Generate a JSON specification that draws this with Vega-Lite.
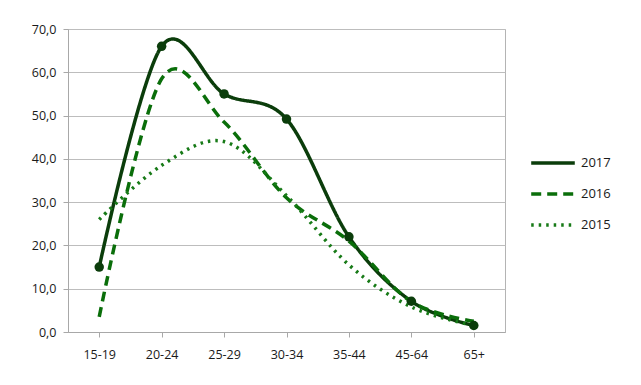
{
  "$schema": "https://vega.github.io/schema/vega-lite/v6.json",
  "width": 437,
  "height": 303,
  "autosize": {"type": "none"},
  "padding": {"left": 68, "top": 29, "right": 136, "bottom": 53},
  "background": "white",
  "config": {
    "view": {"stroke": "#b4b4b4", "strokeWidth": 1},
    "font": "Open Sans",
    "axis": {"labelFont": "Open Sans", "labelFontSize": 12.5, "labelColor": "#1a1a1a", "domainColor": "#a8a8a8", "tickColor": "#a8a8a8", "gridColor": "#bdbdbd", "gridWidth": 1, "tickSize": 5, "title": null}
  },
  "data": {"values": [
    {"age": "15-19", "year": "2017", "v": 15.0},
    {"age": "20-24", "year": "2017", "v": 66.0},
    {"age": "25-29", "year": "2017", "v": 55.0},
    {"age": "30-34", "year": "2017", "v": 49.2},
    {"age": "35-44", "year": "2017", "v": 22.0},
    {"age": "45-64", "year": "2017", "v": 7.1},
    {"age": "65+", "year": "2017", "v": 1.5},
    {"age": "15-19", "year": "2016", "v": 3.5},
    {"age": "20-24", "year": "2016", "v": 58.5},
    {"age": "25-29", "year": "2016", "v": 48.5},
    {"age": "30-34", "year": "2016", "v": 31.0},
    {"age": "35-44", "year": "2016", "v": 21.0},
    {"age": "45-64", "year": "2016", "v": 7.0},
    {"age": "65+", "year": "2016", "v": 2.5},
    {"age": "15-19", "year": "2015", "v": 26.0},
    {"age": "20-24", "year": "2015", "v": 38.5},
    {"age": "25-29", "year": "2015", "v": 44.0},
    {"age": "30-34", "year": "2015", "v": 31.5},
    {"age": "35-44", "year": "2015", "v": 15.5},
    {"age": "45-64", "year": "2015", "v": 5.8},
    {"age": "65+", "year": "2015", "v": 1.5}
  ]},
  "layer": [
    {
      "mark": {"type": "line", "interpolate": "cardinal"},
      "encoding": {
        "x": {"field": "age", "type": "nominal", "sort": null,
              "scale": {"paddingInner": 0, "paddingOuter": 0},
              "axis": {"labelAngle": 0, "bandPosition": 0, "grid": false, "labelPadding": 11, "domainColor": "#a8a8a8"}},
        "y": {"field": "v", "type": "quantitative",
              "scale": {"domain": [0, 70], "nice": false},
              "axis": {"values": [0, 10, 20, 30, 40, 50, 60, 70], "labelExpr": "replace(format(datum.value, '.1f'), '.', ',')", "labelPadding": 7, "grid": true}},
        "color": {"field": "year", "type": "nominal",
                  "scale": {"domain": ["2017", "2016", "2015"], "range": ["#0b3d0b", "#0a6e0a", "#177a17"]},
                  "legend": {"orient": "none", "legendX": 461, "legendY": 110, "title": null, "symbolType": "stroke", "symbolSize": 1900, "symbolStrokeWidth": 3.5, "labelFont": "Open Sans", "labelFontSize": 13, "labelColor": "#1a1a1a", "rowPadding": -1, "labelOffset": 4}},
        "strokeDash": {"field": "year", "type": "nominal",
                  "scale": {"domain": ["2017", "2016", "2015"], "range": [[1, 0], [10, 6], [2.5, 5]]},
                  "legend": null},
        "strokeWidth": {"field": "year", "type": "nominal",
                  "scale": {"domain": ["2017", "2016", "2015"], "range": [3.5, 3.5, 2.5]},
                  "legend": null}
      }
    },
    {
      "transform": [{"filter": "datum.year === '2017'"}],
      "mark": {"type": "point", "filled": true, "size": 90, "opacity": 1, "color": "#0b3d0b"},
      "encoding": {
        "x": {"field": "age", "type": "nominal", "sort": null},
        "y": {"field": "v", "type": "quantitative"}
      }
    }
  ]
}
